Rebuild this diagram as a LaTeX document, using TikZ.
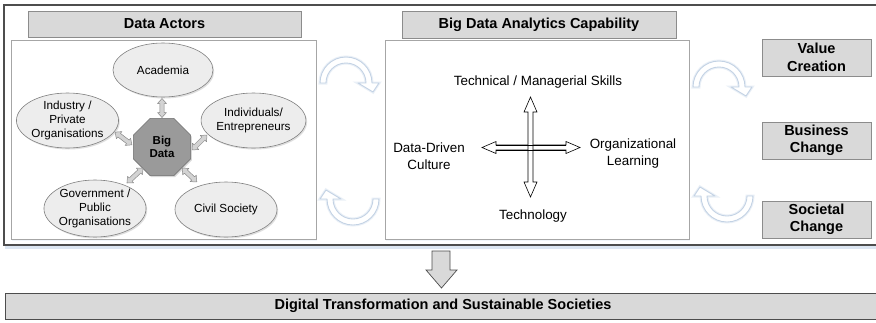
\documentclass[tikz,border=0pt]{standalone}
\usepackage{fontspec}
\setmainfont{Liberation Sans}
\usetikzlibrary{shapes.geometric,shadows,calc}
\definecolor{hdr}{HTML}{D9D9D9}
\definecolor{hdrline}{HTML}{8C8C8C}
\definecolor{frameline}{HTML}{4D4D4D}
\definecolor{boxline}{HTML}{A6A6A6}
\definecolor{ellfill}{HTML}{EDEDED}
\definecolor{ellline}{HTML}{808080}
\definecolor{octfill}{HTML}{9A9A9A}
\definecolor{octline}{HTML}{6E6E6E}
\definecolor{curvline}{HTML}{C3D2E4}
\definecolor{glow}{HTML}{DCE6F2}
\definecolor{softglow}{HTML}{EAF0F7}
\definecolor{smallfill}{HTML}{D3D3D3}
\definecolor{smallline}{HTML}{8A8A8A}
\newcommand\fatdbl[4]{% x y angle halflength
  \draw[smallarr, shift={(#1,-#2)}, rotate=#3]
    (-#4,0) -- (-#4+5,4.5) -- (-#4+5,2.2) -- (#4-5,2.2) -- (#4-5,4.5) -- (#4,0)
    -- (#4-5,-4.5) -- (#4-5,-2.2) -- (-#4+5,-2.2) -- (-#4+5,-4.5) -- cycle;}
\newcommand\curvtop[2]{% cx cy : arc over the top, head on the right
  \draw[curv] (#1-26,-#2) arc[start angle=180,end angle=0,radius=26]
    -- (#1+33,-#2) -- (#1+27,-#2-9) -- (#1+12,-#2) -- (#1+20,-#2)
    arc[start angle=0,end angle=180,radius=20] -- cycle;}
\newcommand\curvbot[2]{% cx cy : arc under the bottom, head on the left
  \draw[curv] (#1+26,-#2) arc[start angle=0,end angle=-180,radius=26]
    -- (#1-33,-#2) -- (#1-27,-#2+9) -- (#1-12,-#2) -- (#1-20,-#2)
    arc[start angle=180,end angle=360,radius=20] -- cycle;}
\begin{document}
\begin{tikzpicture}[x=1pt,y=1pt,
  hdrbox/.style={draw=hdrline, fill=hdr, line width=0.7pt, inner sep=0pt, align=center,
    font=\bfseries\fontsize{14.5}{17.5}\selectfont},
  panel/.style={draw=boxline, fill=white, line width=0.7pt, inner sep=0pt,
    drop shadow={opacity=0.35, fill=glow, shadow xshift=0.8pt, shadow yshift=-1.5pt}},
  actor/.style={ellipse, draw=ellline, fill=ellfill, line width=0.6pt, inner sep=0pt,
    align=center, font=\fontsize{11.7}{13.7}\selectfont,
    drop shadow={opacity=0.25, shadow xshift=1.2pt, shadow yshift=-1.5pt}},
  lbl/.style={inner sep=0pt, align=center, font=\fontsize{13.4}{16.5}\selectfont},
  smallarr/.style={draw=smallline, fill=smallfill, line width=0.5pt, line join=round},
  crossarr/.style={draw=black, line width=0.6pt, line join=miter},
  curv/.style={draw=curvline, fill=white, line width=0.9pt, line join=round,
    preaction={draw=softglow, line width=3pt}},
]
\useasboundingbox (0,0) rectangle (876,-322);
\clip (0,0) rectangle (876,-322);
\fill[white] (0,0) rectangle (876,-322);

% outer frame
\draw[glow, line width=2.5pt] (5,-247.5) -- (880,-247.5);
\draw[frameline, line width=1.2pt] (880,-5) -- (4,-5) -- (4,-245) -- (880,-245);

% headers and panels
\node[hdrbox, minimum width=273pt, minimum height=26pt] (hactors) at (164.5,-24) {Data Actors};
\node[hdrbox, minimum width=274pt, minimum height=27pt] (hbdac) at (539,-24.5) {Big Data Analytics Capability};
\node[panel, minimum width=305pt, minimum height=199pt] (pactors) at (163.5,-139.5) {};
\node[panel, minimum width=304pt, minimum height=199pt] (pbdac) at (537,-139.5) {};

% actors
\node[actor, minimum width=100pt, minimum height=54pt] (acad) at (163,-70) {Academia};
\node[actor, minimum width=101pt, minimum height=55pt] (indus) at (67.5,-120.5) {Industry /\\Private\\Organisations};
\node[actor, minimum width=103pt, minimum height=55pt] (indiv) at (253.5,-120.5) {Individuals/\\Entrepreneurs};
\node[actor, minimum width=96pt, minimum height=57pt] (gov) at (95,-208.5) {Government /\\Public\\Organisations};
\node[actor, minimum width=102pt, minimum height=55pt] (civil) at (226,-209.5) {Civil Society};
\node[regular polygon, regular polygon sides=8, minimum size=62pt, inner sep=0pt,
  draw=octline, fill=octfill, line width=0.6pt, align=center,
  font=\bfseries\fontsize{11.5}{13.5}\selectfont,
  drop shadow={opacity=0.3, shadow xshift=1.2pt, shadow yshift=-1.5pt}] (big) at (162,-147) {Big\\Data};

% small double arrows
\fatdbl{162}{108}{90}{9.5}
\fatdbl{123.5}{138.5}{-37}{10.5}
\fatdbl{199.5}{142.5}{45}{10.5}
\fatdbl{135}{175.5}{43}{11}
\fatdbl{189.5}{175}{-43}{10}

% curved arrows
\curvtop{346}{83}
\curvbot{353}{199}
\curvtop{719}{87}
\curvbot{727}{196}

% capability labels
\node[lbl] (tms) at (538,-82) {Technical / Managerial Skills};
\node[lbl] (ddc) at (429,-156) {Data-Driven\\Culture};
\node[lbl] (orl) at (633,-153.5) {Organizational\\Learning};
\node[lbl] (tec) at (533,-216) {Technology};

% cross
\coordinate (cc) at (530.5,-147.5);
\draw[crossarr, fill=white] (482,-147.5) -- (496,-141.5) -- (496,-145) -- (566,-145) -- (566,-141.5) -- (580,-147.5)
  -- (566,-153.5) -- (566,-150) -- (496,-150) -- (496,-153.5) -- cycle;
\draw[crossarr, fill=white] (530.5,-97) -- (537,-112) -- (533,-112) -- (533,-182) -- (537,-182) -- (530.5,-197)
  -- (524,-182) -- (528,-182) -- (528,-112) -- (524,-112) -- cycle;
\draw[crossarr] (496,-145) -- (566,-145) (496,-150) -- (566,-150);

% outcome boxes
\node[hdrbox, minimum width=109pt, minimum height=37pt] (val) at (816.5,-57.5) {Value\\Creation};
\node[hdrbox, minimum width=109pt, minimum height=37pt] (bus) at (816.5,-140.5) {Business\\Change};
\node[hdrbox, minimum width=109pt, minimum height=37pt] (soc) at (816.5,-219.5) {Societal\\Change};

% down arrow and bottom bar
\node[hdrbox, minimum width=876pt, minimum height=26pt, draw=frameline] (dts) at (443,-306) {Digital Transformation and Sustainable Societies};
\draw[draw=frameline, fill=hdr, line width=0.7pt, line join=miter]
  (432,-251) -- (450,-251) -- (450,-270) -- (457,-270) -- (441.5,-288) -- (426,-270) -- (432,-270) -- cycle;
\end{tikzpicture}
\end{document}
